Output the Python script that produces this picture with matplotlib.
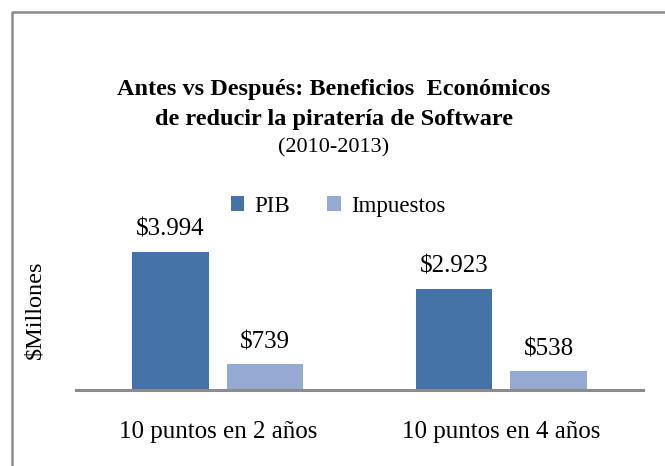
import numpy as np
import matplotlib.pyplot as plt
from matplotlib.lines import Line2D

categories = ["10 puntos en 2 años", "10 puntos en 4 años"]
pib = [3994, 2923]
impuestos = [739, 538]
pib_labels = ["$3.994", "$2.923"]
imp_labels = ["$739", "$538"]

C_PIB = "#4572A7"
C_IMP = "#95AAD3"
FONT = "Liberation Serif"

W, H = 665, 466
fig = plt.figure(figsize=(W / 100, H / 100), dpi=100)
fig.patch.set_facecolor("white")

# outer chart frame (only left and top visible in the crop)
fig.add_artist(Line2D([12 / W, 12 / W, 1.0], [0.0, 1 - 12 / H, 1 - 12 / H],
                      transform=fig.transFigure, color="#8c8c8c", lw=1.8))

ax = fig.add_axes([76 / W, (H - 390) / H, (643 - 76) / W, 200 / H])
x = np.arange(len(categories))
bw = 0.27
off = 0.167
b1 = ax.bar(x - off, pib, bw, color=C_PIB, label="PIB")
b2 = ax.bar(x + off, impuestos, bw, color=C_IMP, label="Impuestos")
ax.set_xlim(-0.5, 1.5)
ax.set_ylim(0, 5790)

for bars, labels in ((b1, pib_labels), (b2, imp_labels)):
    for rect, lab in zip(bars, labels):
        ax.annotate(lab, (rect.get_x() + rect.get_width() / 2, rect.get_height()),
                    xytext=(0, 16), textcoords="offset points", ha="center",
                    va="center", fontsize=18, family=FONT)

for s in ["top", "right", "left"]:
    ax.spines[s].set_visible(False)
ax.spines["bottom"].set_color("#8c8c8c")
ax.spines["bottom"].set_linewidth(2.2)
ax.set_yticks([])
ax.set_xticks(x)
ax.set_xticklabels(categories, fontsize=18, family=FONT)
ax.tick_params(axis="x", length=0, pad=22)

fig.text(35 / W, 1 - 310 / H, "$Millones", rotation=90, ha="center", va="center",
         fontsize=17.5, family=FONT)

fig.text(0.502, 1 - 90 / H, "Antes vs Después: Beneficios  Económicos",
         ha="center", va="center", fontsize=17.5, fontweight="bold", family=FONT)
fig.text(0.502, 1 - 119 / H, "de reducir la piratería de Software",
         ha="center", va="center", fontsize=17.5, fontweight="bold", family=FONT)
fig.text(0.502, 1 - 148 / H, "(2010-2013)",
         ha="center", va="center", fontsize=16, family=FONT)

fig.legend(handles=[b1, b2], labels=["PIB", "Impuestos"], loc="center",
           bbox_to_anchor=(338 / W, 1 - 206 / H), ncol=2, frameon=False,
           prop={"family": FONT, "size": 16.5}, handlelength=0.6, handleheight=0.6,
           handletextpad=0.45, columnspacing=1.6)

fig.savefig("out.png", dpi=100, facecolor="white")
